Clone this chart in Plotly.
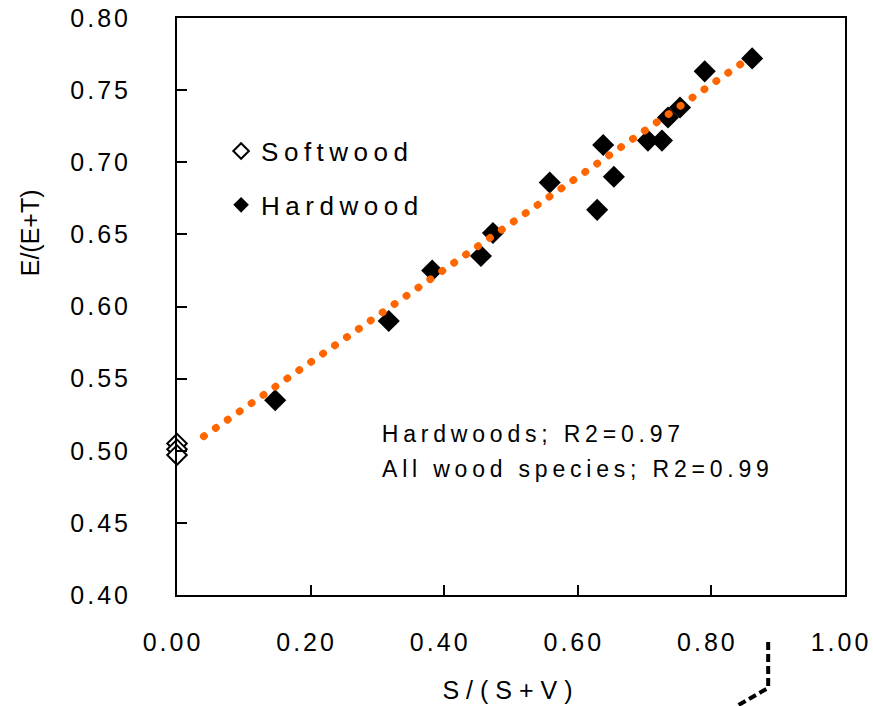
import plotly.graph_objects as go

# ---- data ----
soft_x = [0.0, 0.0, 0.0]
soft_y = [0.505, 0.501, 0.497]

hard_x = [0.147, 0.317, 0.382, 0.455, 0.473, 0.558, 0.629, 0.638, 0.654,
          0.705, 0.726, 0.735, 0.753, 0.790, 0.861]
hard_y = [0.535, 0.590, 0.625, 0.635, 0.651, 0.686, 0.667, 0.712, 0.690,
          0.715, 0.715, 0.731, 0.738, 0.763, 0.772]

trend_x = [0.040, 0.850]
trend_y = [0.510, 0.770]

x_ticks = [0.0, 0.2, 0.4, 0.6, 0.8, 1.0]
y_ticks = [0.40, 0.45, 0.50, 0.55, 0.60, 0.65, 0.70, 0.75, 0.80]

FONT = "Liberation Sans, Arial, sans-serif"
NARROW = "Liberation Sans Narrow, Liberation Sans, Arial, sans-serif"

fig = go.Figure()
fig.add_trace(go.Scatter(
    x=hard_x, y=hard_y, mode="markers", name="Hardwood",
    legendgroup="b", legendrank=2,
    marker=dict(symbol="diamond", size=17, color="black",
                line=dict(width=0)),
))
fig.add_trace(go.Scatter(
    x=soft_x, y=soft_y, mode="markers", name="Softwood",
    legendgroup="a", legendrank=1, cliponaxis=False,
    marker=dict(symbol="diamond", size=15, color="white",
                line=dict(width=2, color="black")),
))
fig.add_trace(go.Scatter(
    x=trend_x, y=trend_y, mode="lines", showlegend=False,
    line=dict(color="#FF6600", width=7.5, dash="0.5px,14px"),
))

fig.update_layout(
    width=873, height=706,
    margin=dict(l=177, r=28, t=18, b=111),
    paper_bgcolor="white", plot_bgcolor="white",
    font=dict(family=FONT, color="black"),
    showlegend=True,
    legend=dict(x=0.066, y=0.810, xanchor="left", yanchor="top",
                bgcolor="rgba(0,0,0,0)",
                font=dict(size=26, family=FONT, color="black"),
                traceorder="grouped", tracegroupgap=17,
                itemsizing="constant"),
    xaxis=dict(range=[0, 1], tickvals=x_ticks, tickformat=".2f",
               automargin=False,
               showgrid=False, zeroline=False, showline=True, linewidth=2,
               linecolor="black", mirror=True, ticks="inside", ticklen=10,
               tickwidth=1.5, tickcolor="black",
               tickfont=dict(size=25, family=FONT, color="black"),
               ticklabelstandoff=24, ticklabelshift=-4,
               title=dict(text="S/(S+V)",
                          font=dict(size=25, family=FONT, color="black"),
                          standoff=26)),
    yaxis=dict(range=[0.4, 0.8], tickvals=y_ticks, tickformat=".2f",
               automargin=False,
               showgrid=False, zeroline=False, showline=True, linewidth=2,
               linecolor="black", mirror=True, ticks="inside", ticklen=10,
               tickwidth=1.5, tickcolor="black",
               tickfont=dict(size=25, family=FONT, color="black"),
               ticklabelstandoff=39),
    annotations=[
        dict(text="E/(E+T)", textangle=-90, xref="paper", yref="paper",
             x=-0.220, y=0.627, xanchor="center", yanchor="middle",
             showarrow=False,
             font=dict(size=25, family=NARROW, color="black")),
        dict(text="Hardwoods; R2=0.97", xref="x", yref="y",
             x=0.304, y=0.5116, xanchor="left", yanchor="middle",
             xshift=43, showarrow=False,
             font=dict(size=23, family=FONT, color="black")),
        dict(text="All wood species; R2=0.99", xref="x", yref="y",
             x=0.304, y=0.4873, xanchor="left", yanchor="middle",
             xshift=60, showarrow=False,
             font=dict(size=23, family=FONT, color="black")),
    ],
    shapes=[
        dict(type="path", xref="paper", yref="paper",
             path="M 0.885 -0.0815 L 0.885 -0.161 L 0.838 -0.1924",
             line=dict(color="black", width=4, dash="8px,4px")),
    ],
)

post = """
var s = document.createElement('style');
s.textContent = '.xtick text, .ytick text {letter-spacing: 3px;}' +
  '.legendtext {letter-spacing: 5.5px;}' +
  '.legend .scrollbox {clip-path: none !important;}' +
  '.g-xtitle text {letter-spacing: 7px;}' +
  '.annotation[data-index="1"] text, .annotation[data-index="2"] text {letter-spacing: 4.8px;}' +
  '.scatterlayer .js-line {stroke-linecap: round;}';
document.head.appendChild(s);
"""

fig.write_html("out.html", post_script=post)
